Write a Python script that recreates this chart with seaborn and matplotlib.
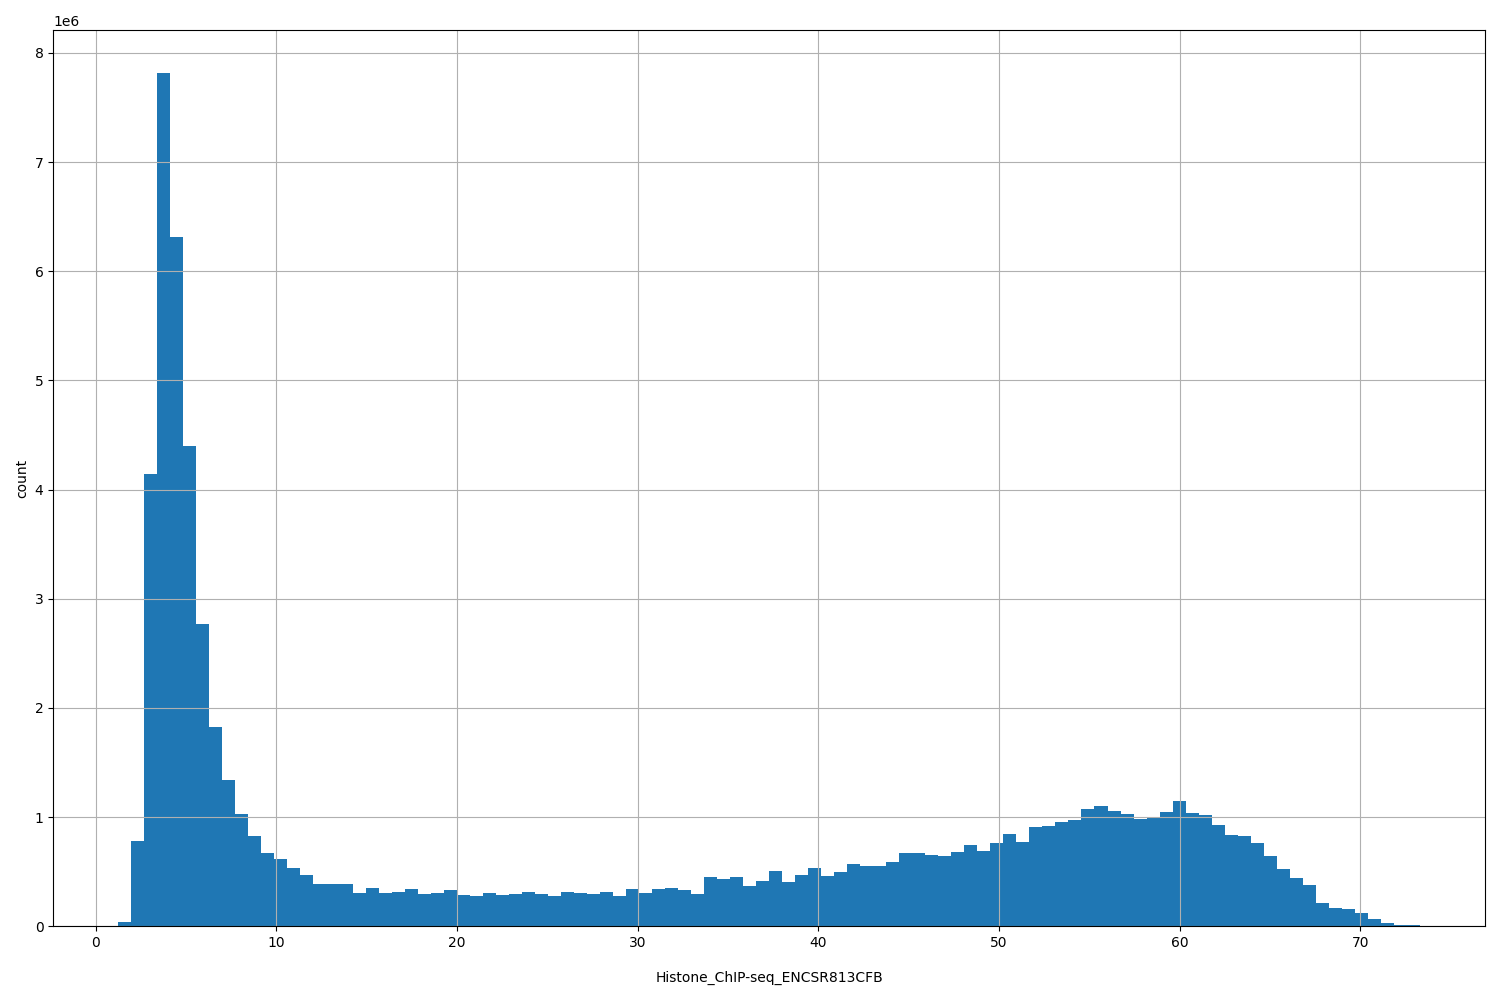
import numpy as np
import pandas as pd
import seaborn as sns
import matplotlib
matplotlib.use("Agg")
import matplotlib.pyplot as plt

# histogram: 100 equal bins between min and max
bin_min = 1.24
bin_max = 73.3
counts_e6 = [
    0.037, 0.78, 4.147, 7.817, 6.31, 4.40, 2.77, 1.83, 1.34, 1.03,
    0.83, 0.67, 0.62, 0.53, 0.474, 0.385, 0.385, 0.385, 0.303, 0.348,
    0.303, 0.31, 0.339, 0.293, 0.303, 0.33, 0.284, 0.275, 0.303, 0.284,
    0.293, 0.31, 0.293, 0.275, 0.31, 0.303, 0.293, 0.31, 0.275, 0.339,
    0.303, 0.339, 0.348, 0.33, 0.293, 0.45, 0.43, 0.45, 0.367, 0.413,
    0.505, 0.404, 0.468, 0.532, 0.459, 0.495, 0.569, 0.55, 0.55, 0.587,
    0.67, 0.67, 0.651, 0.642, 0.679, 0.743, 0.688, 0.76, 0.844, 0.77,
    0.908, 0.917, 0.954, 0.972, 1.073, 1.10, 1.055, 1.027, 0.981, 0.99,
    1.046, 1.147, 1.037, 1.018, 0.926, 0.835, 0.826, 0.761, 0.642, 0.523,
    0.44, 0.376, 0.211, 0.165, 0.156, 0.119, 0.064, 0.028, 0.01, 0.01,
]
column_name = "Histone_ChIP-seq_ENCSR813CFB"

n_bins = len(counts_e6)
edges = np.linspace(bin_min, bin_max, n_bins + 1)
centers = (edges[:-1] + edges[1:]) / 2
df = pd.DataFrame({column_name: centers, "count": np.array(counts_e6) * 1e6})

fig, ax = plt.subplots(figsize=(15, 10), dpi=100)
sns.histplot(data=df, x=column_name, weights="count", bins=n_bins,
             binrange=(bin_min, bin_max),
             color="#1f77b4", alpha=1.0, linewidth=0, ax=ax)
ax.grid(True)
ax.set_xlabel(column_name, labelpad=15)
ax.set_ylabel("count")

plt.tight_layout()
plt.savefig("out.png")
